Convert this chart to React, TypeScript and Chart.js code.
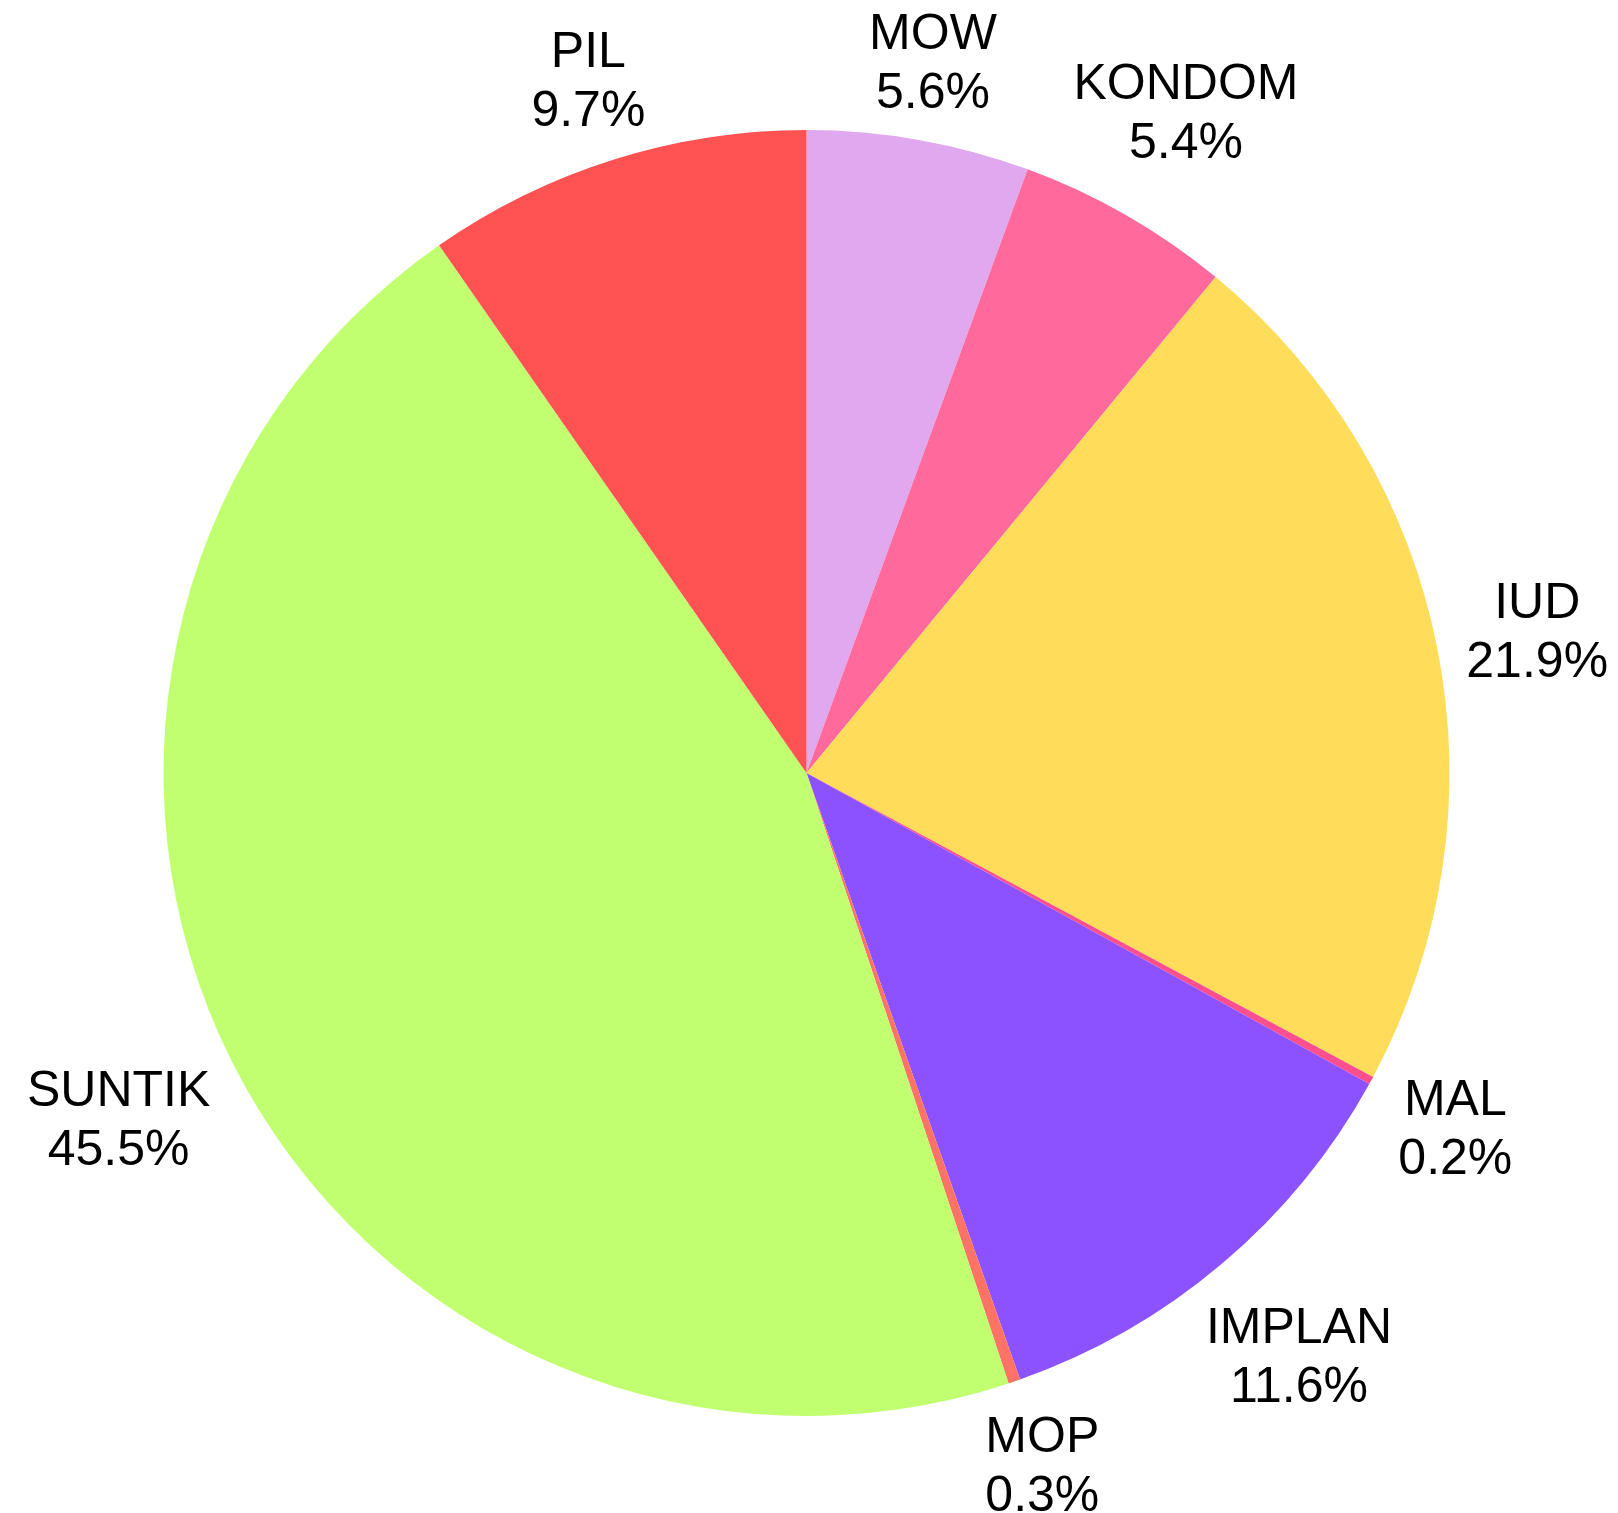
import React, { useEffect, useRef } from "react";
import { Chart, registerables } from "chart.js";

Chart.register(...registerables);

const categories = ["MOW", "KONDOM", "IUD", "MAL", "IMPLAN", "MOP", "SUNTIK", "PIL"];
const percentages = [5.6, 5.4, 21.9, 0.2, 11.6, 0.3, 45.5, 9.7];
const sliceColors = [
  "#E0A8EE",
  "#FF699C",
  "#FFDD5A",
  "#FF4F8E",
  "#8C52FF",
  "#FF7366",
  "#C1FF70",
  "#FF5252",
];

const FONT_SIZE = 50;
const FONT_FAMILY = "'Liberation Sans', Arial, sans-serif";
const LINE_H = 59;
const CAP_H = 36;
const LABEL_GAP = 23;

const outsideLabels = {
  id: "outsideLabels",
  afterDatasetsDraw(chart: any) {
    const ctx = chart.ctx;
    const meta = chart.getDatasetMeta(0);
    ctx.save();
    ctx.font = `${FONT_SIZE}px ${FONT_FAMILY}`;
    ctx.fillStyle = "#000000";
    ctx.textAlign = "center";
    ctx.textBaseline = "alphabetic";
    meta.data.forEach((arc: any, i: number) => {
      const { x, y, startAngle, endAngle, outerRadius } = arc.getProps(
        ["x", "y", "startAngle", "endAngle", "outerRadius"],
        true
      );
      const mid = (startAngle + endAngle) / 2;
      const ux = Math.cos(mid);
      const uy = Math.sin(mid);
      const l1 = categories[i];
      const l2 = percentages[i].toFixed(1) + "%";
      const w = Math.max(ctx.measureText(l1).width, ctx.measureText(l2).width);
      const h = CAP_H + LINE_H;
      const d = outerRadius + LABEL_GAP + (w / 2) * Math.abs(ux) + (h / 2) * Math.abs(uy);
      const cx = x + ux * d;
      const cy = y + uy * d;
      const top = cy - h / 2;
      ctx.fillText(l1, cx, top + CAP_H);
      ctx.fillText(l2, cx, top + CAP_H + LINE_H);
    });
    ctx.restore();
  },
};

export default function App() {
  const canvasRef = useRef<HTMLCanvasElement | null>(null);

  useEffect(() => {
    if (!canvasRef.current) return;
    const chart = new Chart(canvasRef.current, {
      type: "pie",
      data: {
        labels: categories,
        datasets: [
          {
            data: percentages,
            backgroundColor: sliceColors,
            borderWidth: 0,
          },
        ],
      },
      options: {
        animation: false,
        responsive: false,
        maintainAspectRatio: false,
        layout: { padding: { left: 163, right: 168, top: 130, bottom: 97 } },
        plugins: {
          legend: { display: false },
          tooltip: { enabled: false },
        },
      },
      plugins: [outsideLabels],
    });
    return () => chart.destroy();
  }, []);

  return (
    <div style={{ position: "absolute", left: 0, top: 0, width: 1618, height: 1513, background: "#fff" }}>
      <canvas ref={canvasRef} width={1618} height={1513} style={{ width: 1618, height: 1513 }} />
    </div>
  );
}
